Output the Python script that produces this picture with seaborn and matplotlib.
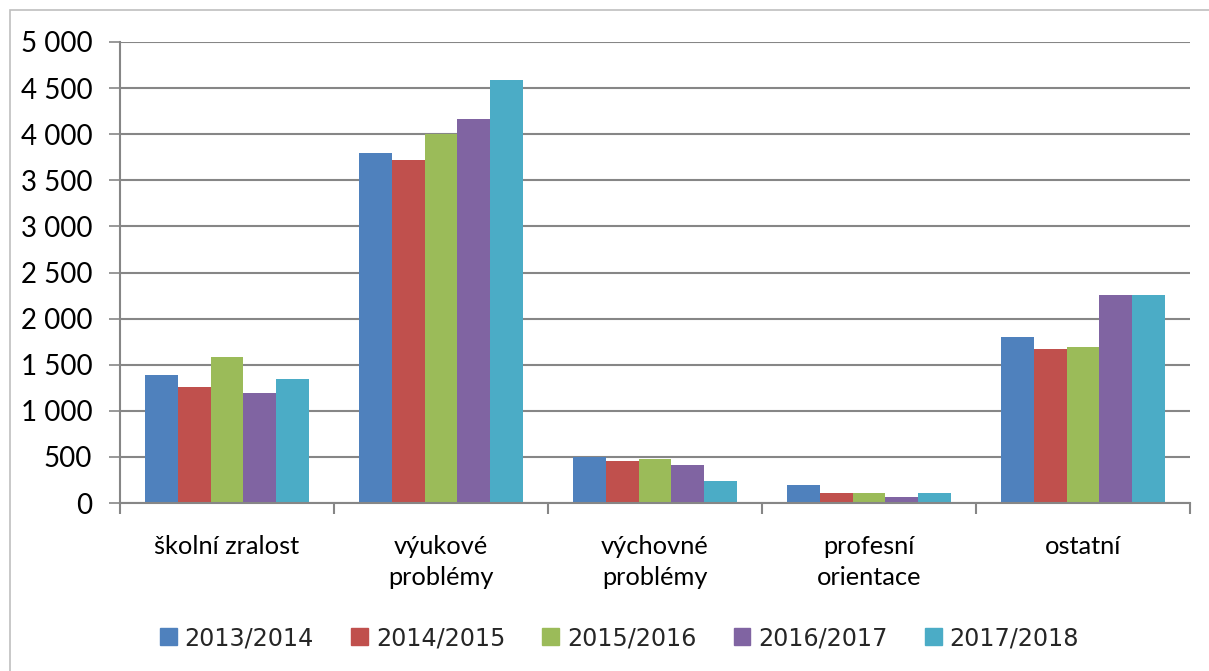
import numpy as np
import pandas as pd
import seaborn as sns
import matplotlib.pyplot as plt
from matplotlib.ticker import FuncFormatter, FixedLocator
from matplotlib.patches import Rectangle

# ----------------------------- data ------------------------------
categories = ["školní zralost", "výukové\nproblémy", "výchovné\nproblémy",
              "profesní\norientace", "ostatní"]
years = ["2013/2014", "2014/2015", "2015/2016", "2016/2017", "2017/2018"]
v_2013 = [1390, 3800, 495, 190, 1805]
v_2014 = [1260, 3715, 455, 105, 1675]
v_2015 = [1585, 4005, 475, 105, 1695]
v_2016 = [1195, 4170, 410, 60, 2260]
v_2017 = [1345, 4585, 235, 105, 2260]
colors = ["#4F81BD", "#C0504D", "#9BBB59", "#8064A2", "#4BACC6"]

rows = []
for yr, vals in zip(years, [v_2013, v_2014, v_2015, v_2016, v_2017]):
    for cat, v in zip(categories, vals):
        rows.append({"kategorie": cat, "rok": yr, "pocet": v})
df = pd.DataFrame(rows)

# ----------------------------- plot ------------------------------
sns.set_style("white")
plt.rcParams["font.family"] = ["Lato", "DejaVu Sans"]

fig = plt.figure(figsize=(12.09, 6.71), dpi=100)
ax = fig.add_axes([120 / 1209, 1 - 503 / 671, 1070 / 1209, 461 / 671])

sns.barplot(data=df, x="kategorie", y="pocet", hue="rok", order=categories,
            hue_order=years, palette=colors, width=0.766, saturation=1,
            edgecolor="none", linewidth=0, ax=ax, legend=False)

ax.set_ylim(0, 5000)
ax.set_xlim(-0.5, 4.5)
ax.set_yticks(np.arange(0, 5001, 500))
ax.yaxis.set_major_formatter(FuncFormatter(lambda v, p: f"{int(v):,}".replace(",", " ")))
ax.grid(axis="y", color="#868686", linewidth=1.5)
ax.set_axisbelow(True)
ax.set_xlabel("")
ax.set_ylabel("")

for s in ["top", "right"]:
    ax.spines[s].set_visible(False)
ax.spines["left"].set_color("#868686")
ax.spines["left"].set_linewidth(1.5)
ax.spines["bottom"].set_color("#868686")
ax.spines["bottom"].set_linewidth(1.5)

ax.tick_params(axis="y", which="major", length=8, width=1.2, color="#868686",
               direction="out", left=True, pad=12, labelsize=20, labelcolor="black")
ax.tick_params(axis="x", which="major", length=0, pad=23, labelsize=18.3, labelcolor="black")
ax.xaxis.set_minor_locator(FixedLocator(np.arange(-0.5, 4.6, 1)))
ax.tick_params(axis="x", which="minor", length=8, width=1.5, color="#868686",
               direction="out", bottom=True)
for lbl in ax.get_xticklabels():
    lbl.set_linespacing(1.45)
    lbl.set_verticalalignment("top")

# legend
handles = [Rectangle((0, 0), 1, 1, color=c) for c in colors]
fig.legend(handles, years, loc="center", bbox_to_anchor=(0.5124, 1 - 638 / 671),
           ncol=5, frameon=False, handlelength=0.71, handleheight=0.71,
           handletextpad=0.33, columnspacing=1.55,
           prop={"family": ["Liberation Sans Narrow", "DejaVu Sans"], "size": 17.2})

# outer chart border
fig.add_artist(Rectangle((10 / 1209, -0.1), 1.2, 1 - 10 / 671 + 0.1,
                         transform=fig.transFigure, fill=False,
                         edgecolor="#BFBFBF", linewidth=1.2))

fig.savefig("out.png", dpi=100, facecolor="white")
